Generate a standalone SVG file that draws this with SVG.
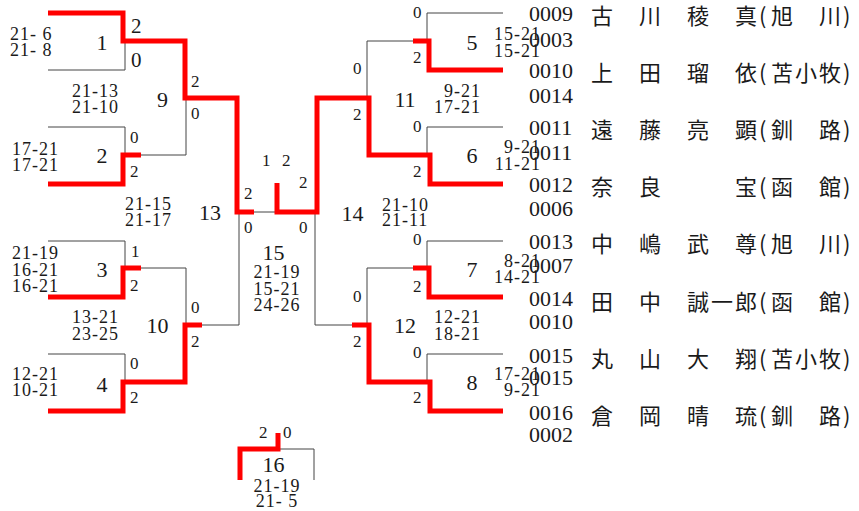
<svg xmlns="http://www.w3.org/2000/svg" width="859" height="511" viewBox="0 0 859 511">
<style>
.t{stroke:#444;stroke-width:1;fill:none}
.r{stroke:#ff0000;stroke-width:5;fill:none;stroke-linejoin:miter}
text{fill:#1a1a1a}
.n{font-family:"Liberation Serif","Times New Roman",serif;font-size:22px;text-anchor:middle}
.s{font-family:"Liberation Serif","Times New Roman",serif;font-size:17px}
.b{font-family:"Liberation Serif","Times New Roman",serif;font-size:21px}
.g{font-family:"Liberation Serif","Times New Roman",serif;font-size:18px;letter-spacing:1px}
.e{text-anchor:end}
.m{text-anchor:middle}
.c{font-family:"Liberation Serif","Times New Roman",serif;font-size:22px}
.k{font-family:"Noto Sans CJK JP","Noto Sans CJK SC",sans-serif;font-size:22px}
</style>
<rect width="859" height="511" fill="#fff"/>
<g id="connectors">
<path class="t" d="M48 70H125V41M48 127H125V155M141 155H186V98M48 241H125V268M141 268H186V325M48 354H125V382M202 325H239V212M254 212H277"/>
<path class="t" d="M503 13H427V41M413 41H367V98M503 127H427V155M503 241H427V268M413 268H367V325M503 354H427V382M352 325H315V212"/>
<path class="t" d="M278 449H314V480"/>
<path class="r" d="M48 13H123V41H185V98H237V212H254"/>
<path class="r" d="M48 184H123V155H141"/>
<path class="r" d="M48 297H123V268H141"/>
<path class="r" d="M48 411H123V382H185V325H202"/>
<path class="r" d="M277 183V212H317V98H369V155H430V184H503"/>
<path class="r" d="M503 70H429V41H413"/>
<path class="r" d="M503 297H429V268H413"/>
<path class="r" d="M352 325H369V382H430V411H503"/>
<path class="r" d="M240 480V449H278V433"/>
</g>
<g id="m1"><text class="n" x="102" y="50">1</text><text class="b" x="131" y="33">2</text><text class="b" x="131" y="67">0</text><text class="g" x="10" y="40">21- 6</text><text class="g" x="10" y="56">21- 8</text></g>
<g id="m2"><text class="n" x="102" y="163">2</text><text class="s" x="130" y="143">0</text><text class="s" x="130" y="177">2</text><text class="g" x="12" y="155">17-21</text><text class="g" x="12" y="171">17-21</text></g>
<g id="m3"><text class="n" x="102" y="277">3</text><text class="s" x="131" y="257">1</text><text class="s" x="130" y="291">2</text><text class="g" x="12" y="259">21-19</text><text class="g" x="12" y="276">16-21</text><text class="g" x="12" y="292">16-21</text></g>
<g id="m4"><text class="n" x="102" y="392">4</text><text class="s" x="130" y="369">0</text><text class="s" x="130" y="403">2</text><text class="g" x="12" y="380">12-21</text><text class="g" x="12" y="396">10-21</text></g>
<g id="m9"><text class="n" x="162.5" y="107">9</text><text class="s" x="191" y="87">2</text><text class="s" x="191" y="119">0</text><text class="g" x="72" y="97">21-13</text><text class="g" x="72" y="113">21-10</text></g>
<g id="m10"><text class="n" x="157.5" y="333">10</text><text class="s" x="191" y="313">0</text><text class="s" x="191" y="347">2</text><text class="g" x="72" y="323">13-21</text><text class="g" x="72" y="340">23-25</text></g>
<g id="m13"><text class="n" x="210" y="220">13</text><text class="s" x="244" y="199">2</text><text class="s" x="244" y="233">0</text><text class="g" x="125" y="210">21-15</text><text class="g" x="125" y="226">21-17</text></g>
<g id="m15"><text class="n" x="273.5" y="260">15</text><text class="s" x="262" y="166">1</text><text class="s" x="282" y="166">2</text><text class="g m" x="277" y="278">21-19</text><text class="g m" x="277" y="295">15-21</text><text class="g m" x="277" y="311">24-26</text></g>
<g id="m14"><text class="n" x="352.5" y="221">14</text><text class="s" x="299" y="188">2</text><text class="s" x="299" y="233">0</text><text class="g" x="382" y="211">21-10</text><text class="g" x="382" y="226">21-11</text></g>
<g id="m5"><text class="n" x="472" y="50">5</text><text class="s" x="413" y="18">0</text><text class="s" x="413" y="63">2</text><text class="g e" x="541" y="40">15-21</text><text class="g e" x="541" y="57">15-21</text></g>
<g id="m6"><text class="n" x="472" y="163">6</text><text class="s" x="413" y="132">0</text><text class="s" x="413" y="177">2</text><text class="g e" x="541" y="153">9-21</text><text class="g e" x="541" y="170">11-21</text></g>
<g id="m7"><text class="n" x="472" y="277">7</text><text class="s" x="413" y="245">0</text><text class="s" x="413" y="292">2</text><text class="g e" x="541" y="267">8-21</text><text class="g e" x="541" y="283">14-21</text></g>
<g id="m8"><text class="n" x="472" y="390">8</text><text class="s" x="413" y="358">0</text><text class="s" x="413" y="403">2</text><text class="g e" x="541" y="380">17-21</text><text class="g e" x="541" y="396">9-21</text></g>
<g id="m11"><text class="n" x="405" y="107">11</text><text class="s" x="353" y="74">0</text><text class="s" x="353" y="120">2</text><text class="g e" x="481" y="97">9-21</text><text class="g e" x="481" y="113">17-21</text></g>
<g id="m12"><text class="n" x="405" y="333">12</text><text class="s" x="353" y="302">0</text><text class="s" x="353" y="347">2</text><text class="g e" x="481" y="323">12-21</text><text class="g e" x="481" y="340">18-21</text></g>
<g id="m16"><text class="n" x="273.5" y="472">16</text><text class="s" x="259" y="438">2</text><text class="s" x="283" y="438">0</text><text class="g m" x="277" y="492">21-19</text><text class="g m" x="277" y="507">21- 5</text></g>
<g id="players">
<text class="c" x="529" y="20.5">0009</text><text class="c" x="529" y="47">0003</text>
<text class="c" x="529" y="77.6">0010</text><text class="c" x="529" y="103.4">0014</text>
<text class="c" x="529" y="134.7">0011</text><text class="c" x="529" y="159.8">0011</text>
<text class="c" x="529" y="191.8">0012</text><text class="c" x="529" y="216.2">0006</text>
<text class="c" x="529" y="248.9">0013</text><text class="c" x="529" y="272.6">0007</text>
<text class="c" x="529" y="306">0014</text><text class="c" x="529" y="329">0010</text>
<text class="c" x="529" y="363.1">0015</text><text class="c" x="529" y="385.4">0015</text>
<text class="c" x="529" y="420.2">0016</text><text class="c" x="529" y="441.8">0002</text>
<text class="k" x="591 615 639 663 687 711 735 759 771 795 819 843" y="24">古　川　稜　真(旭　川)</text>
<text class="k" x="591 615 639 663 687 711 735 759 771 795 819 843" y="81.1">上　田　瑠　依(苫小牧)</text>
<text class="k" x="591 615 639 663 687 711 735 759 771 795 819 843" y="138.2">遠　藤　亮　顕(釧　路)</text>
<text class="k" x="591 615 639 663 687 711 735 759 771 795 819 843" y="195.3">奈　良　　　宝(函　館)</text>
<text class="k" x="591 615 639 663 687 711 735 759 771 795 819 843" y="252.4">中　嶋　武　尊(旭　川)</text>
<text class="k" x="591 615 639 663 687 711 735 759 771 795 819 843" y="309.5">田　中　誠一郎(函　館)</text>
<text class="k" x="591 615 639 663 687 711 735 759 771 795 819 843" y="366.6">丸　山　大　翔(苫小牧)</text>
<text class="k" x="591 615 639 663 687 711 735 759 771 795 819 843" y="423.7">倉　岡　晴　琉(釧　路)</text>
</g>
</svg>
